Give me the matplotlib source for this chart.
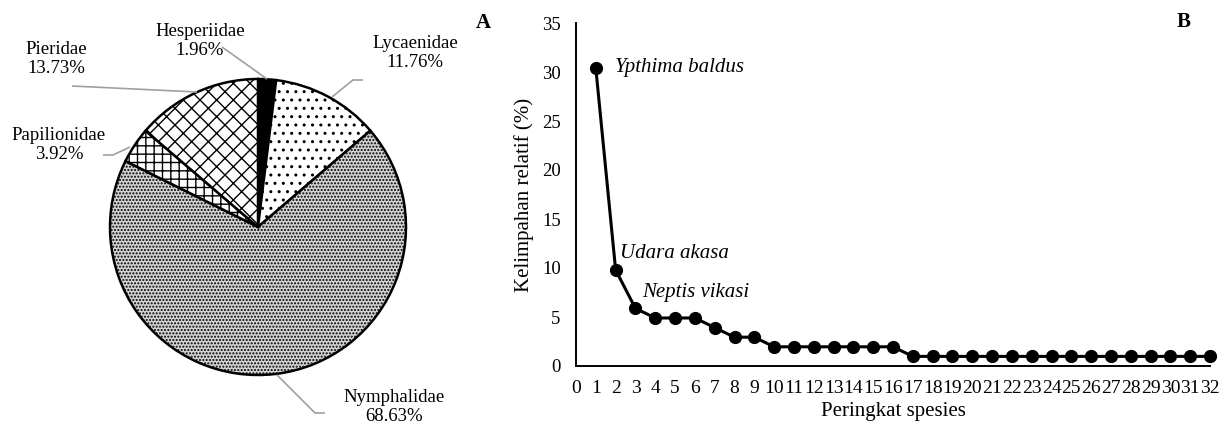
import matplotlib
matplotlib.use("Agg")
import matplotlib.pyplot as plt

plt.rcParams['font.family'] = ['Liberation Serif', 'DejaVu Serif']
plt.rcParams['hatch.linewidth'] = 1.0

# ---- data ----
families = ["Hesperiidae", "Lycaenidae", "Nymphalidae", "Papilionidae", "Pieridae"]
family_pct = [1.96, 11.76, 68.63, 3.92, 13.73]

rank = list(range(1, 33))
rel_abund = [30.39, 9.80, 5.88, 4.90, 4.90, 4.90, 3.92, 2.94, 2.94,
             1.96, 1.96, 1.96, 1.96, 1.96, 1.96, 1.96] + [0.98] * 16
species_labels = ["Ypthima baldus", "Udara akasa", "Neptis vikasi"]
x_ticks = list(range(0, 33))
y_ticks = list(range(0, 36, 5))

W, H = 1230, 430
fig = plt.figure(figsize=(W / 100, H / 100), dpi=100)

# ---- Pie (A) ----
axp = fig.add_axes([0, 0, 500 / W, 1])
cx, cy, R = 258, 227, 148
hatches = ["", "..", ".....", "++", "xx"]
faces = ["black", "white", "#d4d4d4", "white", "white"]
wedges, _ = axp.pie(family_pct, startangle=90, counterclock=False,
                    colors=faces,
                    wedgeprops=dict(edgecolor="black", linewidth=1.8))
for w, h in zip(wedges, hatches):
    w.set_hatch(h)
axp.set_aspect('auto')
axp.set_xlim((0 - cx) / R, (500 - cx) / R)
axp.set_ylim(-(H - cy) / R, cy / R)
axp.axis('off')


def P(px, py):
    return ((px - cx) / R, (cy - py) / R)


lab_pos = {
    "Hesperiidae": (200, 41),
    "Lycaenidae": (415, 53),
    "Nymphalidae": (394, 407),
    "Papilionidae": (59, 145),
    "Pieridae": (56, 59),
}
leaders = {
    "Hesperiidae": [(222, 47), (267, 79)],
    "Lycaenidae": [(363, 80), (353, 80), (332, 97)],
    "Nymphalidae": [(277, 375), (315, 413), (325, 413)],
    "Papilionidae": [(103, 155), (113, 155), (130, 147)],
    "Pieridae": [(72, 86), (197, 92)],
}
for name, pct in zip(families, family_pct):
    x, y = P(*lab_pos[name])
    axp.text(x, y, f"{name}\n{pct:.2f}%", ha="center", va="center",
             fontsize=13.5, linespacing=1.1)
    pts = [P(*p) for p in leaders[name]]
    axp.plot([p[0] for p in pts], [p[1] for p in pts], color="#a0a0a0",
             lw=1.2, solid_capstyle="butt")

fig.text(483 / W, 1 - 23 / H, "A", fontsize=15, fontweight="bold",
         ha="center", va="center")
fig.text(1184 / W, 1 - 22 / H, "B", fontsize=15, fontweight="bold",
         ha="center", va="center")

# ---- Rank abundance (B) ----
x0, x1, ytop, ybot = 576, 1210, 23, 366
ax = fig.add_axes([x0 / W, 1 - ybot / H, (x1 - x0) / W, (ybot - ytop) / H])
ax.plot(rank, rel_abund, color="black", lw=2.2, marker="o", markersize=8.5,
        clip_on=False, zorder=3)
ax.set_xlim(0, 32)
ax.set_ylim(0, 35)
ax.set_xticks(x_ticks)
ax.set_xticklabels([str(t) for t in x_ticks])
ax.set_yticks(y_ticks)
for s in ["top", "right"]:
    ax.spines[s].set_visible(False)
for s in ["left", "bottom"]:
    ax.spines[s].set_linewidth(1.4)
ax.tick_params(axis="x", length=0, pad=10, labelsize=14)
ax.tick_params(axis="y", length=0, pad=11, labelsize=13.5)
ax.set_xlabel("Peringkat spesies", fontsize=15, labelpad=4)
ax.set_ylabel("Kelimpahan relatif (%)", fontsize=15, labelpad=6)

offsets = [(0.97, 0.1), (0.22, 1.7), (0.33, 1.67)]
for i, (lab, (dx, dy)) in enumerate(zip(species_labels, offsets)):
    ax.text(rank[i] + dx, rel_abund[i] + dy, lab, fontsize=15,
            fontstyle="italic", ha="left", va="center")

fig.savefig("out.png", dpi=100)
